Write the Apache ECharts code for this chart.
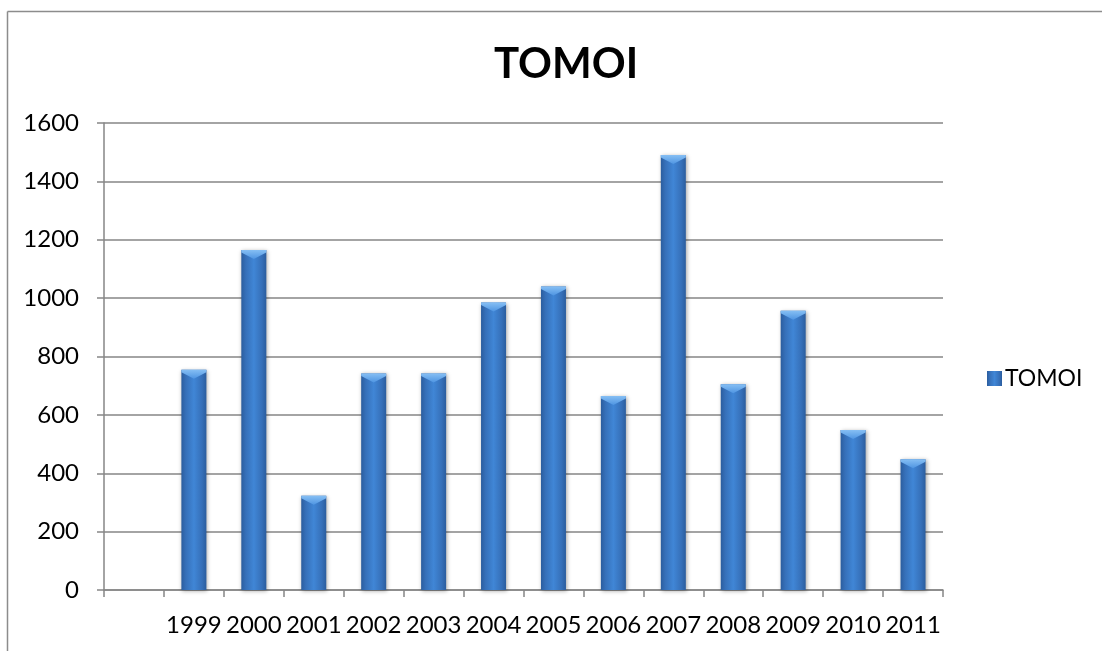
<!DOCTYPE html>
<html>
<head>
<meta charset="utf-8">
<script src="https://cdn.jsdelivr.net/npm/echarts@6/dist/echarts.min.js"></script>
<style>
  html, body { margin: 0; padding: 0; background: #ffffff; }
  #chart { width: 1102px; height: 651px; }
</style>
</head>
<body>
<div id="chart"></div>
<script>
// Yearly TOMOI totals; the first slot on the category axis is left empty.
const categories = ['', '1999', '2000', '2001', '2002', '2003', '2004', '2005', '2006', '2007', '2008', '2009', '2010', '2011'];
const tomoiValues = ['-', 755, 1165, 323, 742, 742, 985, 1040, 665, 1490, 705, 957, 548, 448];
const seriesName = 'TOMOI';
const chartTitle = 'TOMOI';

const FONT = 'Lato, "Open Sans", sans-serif';
const AXIS_GREY = '#868686';

const chart = echarts.init(document.getElementById('chart'), null, { renderer: 'canvas' });

// Cylinder-like shading across the width of each column
const barFill = new echarts.graphic.LinearGradient(0, 0, 1, 0, [
  { offset: 0, color: '#2b5d9e' },
  { offset: 0.18, color: '#3670b9' },
  { offset: 0.5, color: '#4086d6' },
  { offset: 0.82, color: '#3670b9' },
  { offset: 1, color: '#2b5d9e' }
]);

// Bevelled cap drawn over the top of each column
const capFill = new echarts.graphic.LinearGradient(0, 0, 0, 1, [
  { offset: 0, color: '#86bff4' },
  { offset: 1, color: '#4f95e2' }
]);

chart.setOption({
  backgroundColor: '#ffffff',
  animation: false,
  title: {
    text: chartTitle,
    left: 561,
    top: 38,
    textAlign: 'center',
    textStyle: { fontFamily: FONT, fontWeight: 'bold', fontSize: 42, color: '#000000' }
  },
  legend: {
    data: [{ name: seriesName, icon: 'rect' }],
    left: 982,
    top: 362,
    itemWidth: 15,
    itemHeight: 15,
    itemGap: 6,
    textStyle: { fontFamily: FONT, fontSize: 23, color: '#000000', padding: [0, 0, 0, -2] }
  },
  grid: { left: 104, right: 159, top: 123, bottom: 61, containLabel: false },
  xAxis: {
    type: 'category',
    data: categories,
    boundaryGap: true,
    axisLine: { show: true, lineStyle: { color: AXIS_GREY, width: 1.5 } },
    axisTick: { show: true, length: 7, interval: 0, alignWithLabel: false, lineStyle: { color: AXIS_GREY, width: 1.5 } },
    axisLabel: { interval: 0, margin: 23, fontFamily: FONT, fontSize: 24, color: '#000000' },
    splitLine: { show: false }
  },
  yAxis: {
    type: 'value',
    min: 0,
    max: 1600,
    interval: 200,
    axisLine: { show: true, lineStyle: { color: AXIS_GREY, width: 1.5 } },
    axisTick: { show: true, length: 7, lineStyle: { color: AXIS_GREY, width: 1.5 } },
    axisLabel: {
      margin: 25,
      fontFamily: FONT,
      fontSize: 24,
      color: '#000000',
      formatter: (v) => String(v)
    },
    splitLine: { show: true, lineStyle: { color: AXIS_GREY, width: 1.5 } }
  },
  series: [
    {
      name: seriesName,
      type: 'bar',
      data: tomoiValues,
      barWidth: 25,
      itemStyle: {
        color: barFill,
        shadowColor: 'rgba(0,0,0,0.35)',
        shadowBlur: 4,
        shadowOffsetX: 1,
        shadowOffsetY: 1
      },
      z: 2
    },
    {
      name: 'cap',
      type: 'pictorialBar',
      data: tomoiValues,
      symbol: 'path://M0,0 L10,0 L10,2.5 L5,9 L0,2.5 Z',
      symbolSize: [25, 9],
      symbolPosition: 'end',
      itemStyle: { color: capFill },
      silent: true,
      z: 3
    }
  ],
  graphic: [
    {
      type: 'line',
      shape: { x1: 7.5, y1: 11.5, x2: 1102, y2: 11.5 },
      style: { stroke: '#8c8c8c', lineWidth: 1.5 },
      silent: true
    },
    {
      type: 'line',
      shape: { x1: 7.5, y1: 11.5, x2: 7.5, y2: 651 },
      style: { stroke: '#8c8c8c', lineWidth: 1.5 },
      silent: true
    }
  ]
});
</script>
</body>
</html>
